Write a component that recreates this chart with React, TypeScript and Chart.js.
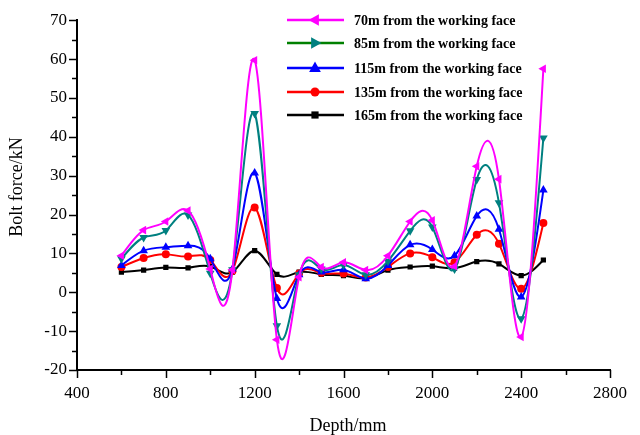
import React, { useEffect, useRef } from 'react';
import { Chart, registerables } from 'chart.js';

Chart.register(...registerables);

const depths = [600, 700, 800, 900, 1000, 1100, 1200, 1300, 1400, 1500, 1600, 1700, 1800, 1900, 2000, 2100, 2200, 2300, 2400, 2500];
const seriesNames = [
  '70m from the working face',
  '85m from the working face',
  '115m from the working face',
  '135m from the working face',
  '165m from the working face',
];
const force70 = [9.4, 16, 18.2, 21, 6, 5.8, 59.7, -12.2, 3.9, 6.5, 7.7, 5.7, 9.4, 18.2, 18.5, 6.7, 32.4, 29.1, -11.5, 57.5];
const force85 = [8.6, 14.1, 15.9, 19.9, 4.9, 5.8, 46, -8.6, 4.5, 6, 7, 4.5, 8, 15.8, 16.8, 6, 29, 23, -6.8, 39.7];
const force115 = [6.9, 10.7, 11.6, 12, 8.6, 6, 30.7, -1.6, 4.5, 5.2, 5.8, 3.5, 6.9, 12.2, 11, 9.4, 19.6, 16.2, -1.2, 26.3];
const force135 = [6.5, 8.8, 9.8, 9.2, 8.3, 5.5, 21.8, 1.1, 4.8, 5, 4.8, 3.8, 6.5, 10, 9, 7.7, 14.8, 12.5, 0.9, 17.8];
const force165 = [5.2, 5.7, 6.4, 6.3, 6.6, 5.2, 10.7, 4.6, 5.2, 4.6, 4.3, 3.6, 5.7, 6.5, 6.7, 6.2, 7.9, 7.3, 4.3, 8.3];
const xTicks = [400, 800, 1200, 1600, 2000, 2400, 2800];
const yTicks = [-20, -10, 0, 10, 20, 30, 40, 50, 60, 70];

const SERIF = "'Liberation Serif', 'Times New Roman', serif";

type Marker = { shape: 'triangle' | 'circle' | 'rect'; rot: number; r: number };
const styles = [
  { line: '#FF00FF', marker: '#FF00FF', legendLine: '#FF00FF', plot: { shape: 'triangle', rot: -90 }, legend: { shape: 'triangle', rot: -90, r: 6.5 } },
  { line: '#008080', marker: '#008080', legendLine: '#008000', plot: { shape: 'triangle', rot: 180 }, legend: { shape: 'triangle', rot: 90, r: 6.5 } },
  { line: '#0000FF', marker: '#0000FF', legendLine: '#0000FF', plot: { shape: 'triangle', rot: 0 }, legend: { shape: 'triangle', rot: 0, r: 6.5 } },
  { line: '#FF0000', marker: '#FF0000', legendLine: '#FF0000', plot: { shape: 'circle', rot: 0 }, legend: { shape: 'circle', rot: 0, r: 4.5 } },
  { line: '#000000', marker: '#000000', legendLine: '#000000', plot: { shape: 'rect', rot: 0 }, legend: { shape: 'rect', rot: 0, r: 4.5 } },
];
const allSeries = [force70, force85, force115, force135, force165];

function drawMarker(ctx: CanvasRenderingContext2D, x: number, y: number, m: Marker, color: string) {
  ctx.save();
  ctx.fillStyle = color;
  ctx.translate(x, y);
  ctx.rotate((m.rot * Math.PI) / 180);
  ctx.beginPath();
  if (m.shape === 'triangle') {
    const r = m.r;
    ctx.moveTo(0, -r);
    ctx.lineTo(r * 0.9, r * 0.6);
    ctx.lineTo(-r * 0.9, r * 0.6);
    ctx.closePath();
  } else if (m.shape === 'circle') {
    ctx.arc(0, 0, m.r, 0, Math.PI * 2);
  } else {
    ctx.rect(-m.r * 0.8, -m.r * 0.8, m.r * 1.6, m.r * 1.6);
  }
  ctx.fill();
  ctx.restore();
}

// Natural cubic spline: set the Bezier control points of the line's own point elements
function applyNaturalSpline(pts: any[]) {
  const n = pts.length;
  if (n < 3) return;
  const x = pts.map((p) => p.x);
  const y = pts.map((p) => p.y);
  const h: number[] = [];
  for (let i = 0; i < n - 1; i++) h.push(x[i + 1] - x[i]);
  const a = new Array(n).fill(0);
  const b = new Array(n).fill(1);
  const c = new Array(n).fill(0);
  const d = new Array(n).fill(0);
  for (let i = 1; i < n - 1; i++) {
    a[i] = h[i - 1];
    b[i] = 2 * (h[i - 1] + h[i]);
    c[i] = h[i];
    d[i] = 6 * ((y[i + 1] - y[i]) / h[i] - (y[i] - y[i - 1]) / h[i - 1]);
  }
  for (let i = 1; i < n; i++) {
    const w = a[i] / b[i - 1];
    b[i] -= w * c[i - 1];
    d[i] -= w * d[i - 1];
  }
  const M = new Array(n).fill(0);
  M[n - 1] = d[n - 1] / b[n - 1];
  for (let i = n - 2; i >= 0; i--) M[i] = (d[i] - c[i] * M[i + 1]) / b[i];
  for (let i = 0; i < n - 1; i++) {
    const s = (y[i + 1] - y[i]) / h[i];
    const ms = s - (h[i] * (2 * M[i] + M[i + 1])) / 6;
    const me = s + (h[i] * (M[i] + 2 * M[i + 1])) / 6;
    pts[i].cp2x = x[i] + h[i] / 3;
    pts[i].cp2y = y[i] + (h[i] / 3) * ms;
    pts[i + 1].cp1x = x[i + 1] - h[i] / 3;
    pts[i + 1].cp1y = y[i + 1] - (h[i] / 3) * me;
  }
  pts[0].cp1x = x[0];
  pts[0].cp1y = y[0];
  pts[n - 1].cp2x = x[n - 1];
  pts[n - 1].cp2y = y[n - 1];
}

const splinePlugin = {
  id: 'naturalSpline',
  beforeDatasetsDraw(chart: any) {
    chart.data.datasets.forEach((_: any, i: number) => {
      const meta = chart.getDatasetMeta(i);
      if (meta.dataset && meta.dataset.updateControlPoints) {
        meta.dataset.updateControlPoints(chart.chartArea, meta.indexAxis);
      }
      applyNaturalSpline(meta.data);
    });
  },
};

const extrasPlugin = {
  id: 'extras',
  afterDraw(chart: any) {
    const ctx: CanvasRenderingContext2D = chart.ctx;
    const { left, bottom } = chart.chartArea;
    const xs = chart.scales.x;
    const ys = chart.scales.y;
    ctx.save();
    ctx.strokeStyle = '#000';
    ctx.lineWidth = 1.5;
    for (let v = -20; v <= 70; v += 5) {
      const py = Math.round(ys.getPixelForValue(v)) + 0.5;
      const len = v % 10 === 0 ? 8 : 5;
      ctx.beginPath();
      ctx.moveTo(left - len, py);
      ctx.lineTo(left, py);
      ctx.stroke();
    }
    for (let d = 400; d <= 2800; d += 200) {
      const px = Math.round(xs.getPixelForValue(d)) + 0.5;
      const len = d % 400 === 0 ? 8 : 5;
      ctx.beginPath();
      ctx.moveTo(px, bottom);
      ctx.lineTo(px, bottom + len);
      ctx.stroke();
    }
    ctx.fillStyle = '#000';
    ctx.font = `18px ${SERIF}`;
    ctx.textAlign = 'center';
    ctx.textBaseline = 'middle';
    ctx.fillText('Depth/mm', 348, 426);
    ctx.save();
    ctx.translate(17, 187);
    ctx.rotate(-Math.PI / 2);
    ctx.fillText('Bolt force/kN', 0, 0);
    ctx.restore();
    const rows = [20, 43, 68, 92, 115];
    ctx.font = `bold 14px ${SERIF}`;
    ctx.textAlign = 'left';
    ctx.textBaseline = 'middle';
    rows.forEach((ry, i) => {
      const st = styles[i];
      ctx.strokeStyle = st.legendLine;
      ctx.lineWidth = 2.5;
      ctx.beginPath();
      ctx.moveTo(287, ry);
      ctx.lineTo(344, ry);
      ctx.stroke();
      drawMarker(ctx, 315, ry, st.legend as Marker, st.marker);
      ctx.fillStyle = '#000';
      ctx.fillText(seriesNames[i], 354, ry + 1);
    });
    ctx.restore();
  },
};

export default function App() {
  const ref = useRef<HTMLCanvasElement>(null);
  useEffect(() => {
    if (!ref.current) return;
    const datasets = allSeries.map((arr, i) => {
      const st = styles[i];
      const m = st.plot;
      return {
        label: seriesNames[i],
        data: depths.map((d, j) => ({ x: d, y: arr[j] })),
        borderColor: st.line,
        backgroundColor: st.marker,
        borderWidth: 2,
        pointStyle: m.shape as any,
        rotation: m.rot,
        pointRadius: m.shape === 'circle' ? 4 : m.shape === 'rect' ? 3.7 : 5,
        pointBorderWidth: 0,
        pointBackgroundColor: st.marker,
        pointBorderColor: st.marker,
        tension: 0.4,
        fill: false,
      };
    });
    const chart = new Chart(ref.current, {
      type: 'line',
      data: { datasets },
      options: {
        animation: false,
        responsive: false,
        layout: { autoPadding: false, padding: { top: 18, right: 28, left: 0, bottom: 0 } },
        plugins: { legend: { display: false }, tooltip: { enabled: false } },
        scales: {
          x: {
            type: 'linear',
            min: 400,
            max: 2800,
            afterFit: (s: any) => { s.height = 65; },
            afterBuildTicks: (s: any) => { s.ticks = xTicks.map((v) => ({ value: v })); },
            ticks: { color: '#000', font: { family: SERIF, size: 17 }, padding: 13, maxRotation: 0, autoSkip: false, callback: (v: any) => String(v) },
            grid: { display: true, drawOnChartArea: false, drawTicks: false },
            border: { display: true, color: '#000', width: 2 },
          },
          y: {
            type: 'linear',
            min: -20,
            max: 70,
            afterFit: (s: any) => { s.width = 77; },
            afterBuildTicks: (s: any) => { s.ticks = yTicks.map((v) => ({ value: v })); },
            ticks: { color: '#000', font: { family: SERIF, size: 17 }, padding: 10, callback: (v: any) => String(v) },
            grid: { display: true, drawOnChartArea: false, drawTicks: false },
            border: { display: true, color: '#000', width: 2 },
          },
        },
      },
      plugins: [splinePlugin, extrasPlugin],
    });
    return () => chart.destroy();
  }, []);
  return (
    <div style={{ position: 'absolute', left: 0, top: 0, width: 640, height: 435, background: '#fff' }}>
      <canvas ref={ref} width={640} height={435} style={{ display: 'block' }} />
    </div>
  );
}
